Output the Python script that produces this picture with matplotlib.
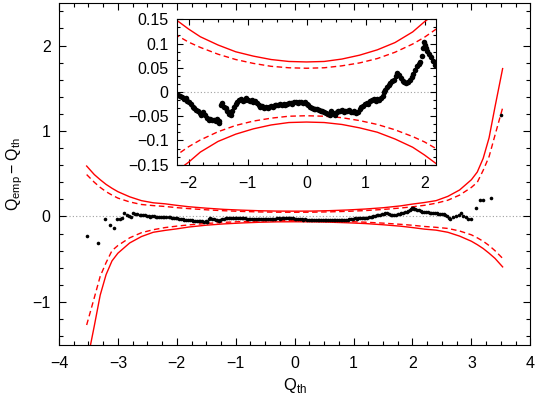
import numpy as np
import matplotlib
matplotlib.use("Agg")
import matplotlib.pyplot as plt
from matplotlib.ticker import MultipleLocator, AutoMinorLocator

plt.rcParams['font.family'] = ['Liberation Sans', 'DejaVu Sans']
plt.rcParams['mathtext.fontset'] = 'custom'
plt.rcParams['mathtext.rm'] = 'Liberation Sans'

# empirical minus theoretical quantiles
q_th = [-3.53, -3.33, -3.22, -3.14, -3.07, -3.02, -2.97, -2.925, -2.89, -2.85,
        -2.81, -2.78, -2.75, -2.71, -2.67, -2.63, -2.60, -2.57, -2.54, -2.51,
        -2.48, -2.45, -2.42, -2.39, -2.36, -2.33, -2.30, -2.27, -2.24, -2.21,
        -2.18, -2.14, -2.11, -2.08, -2.05, -2.02, -1.99, -1.96, -1.93, -1.90,
        -1.87, -1.84, -1.81, -1.78, -1.75, -1.72, -1.69, -1.66, -1.63, -1.60,
        -1.57, -1.54, -1.51, -1.49, -1.48, -1.45, -1.43, -1.40, -1.37, -1.34,
        -1.31, -1.28, -1.26, -1.23, -1.20, -1.17, -1.14, -1.11, -1.08, -1.05,
        -1.02, -0.99, -0.96, -0.93, -0.90, -0.87, -0.84, -0.81, -0.78, -0.75,
        -0.72, -0.69, -0.66, -0.63, -0.60, -0.57, -0.54, -0.51, -0.48, -0.45,
        -0.42, -0.39, -0.36, -0.33, -0.30, -0.27, -0.24, -0.21, -0.18, -0.15,
        -0.12, -0.09, -0.06, -0.03, 0.00, 0.03, 0.06, 0.09, 0.12, 0.15,
        0.18, 0.21, 0.24, 0.27, 0.30, 0.33, 0.36, 0.39, 0.42, 0.45,
        0.48, 0.51, 0.54, 0.57, 0.60, 0.63, 0.66, 0.69, 0.72, 0.75,
        0.78, 0.81, 0.84, 0.87, 0.90, 0.93, 0.96, 0.99, 1.02, 1.05,
        1.08, 1.11, 1.14, 1.17, 1.20, 1.23, 1.26, 1.29, 1.31, 1.33,
        1.36, 1.39, 1.42, 1.45, 1.48, 1.51, 1.54, 1.57, 1.60, 1.63,
        1.66, 1.69, 1.72, 1.75, 1.78, 1.81, 1.84, 1.87, 1.90, 1.93,
        1.95, 1.97, 1.99, 2.01, 2.03, 2.05, 2.08, 2.11, 2.14, 2.17,
        2.20, 2.23, 2.26, 2.29, 2.32, 2.35, 2.38, 2.41, 2.44, 2.47,
        2.50, 2.53, 2.56, 2.59, 2.62, 2.64, 2.69, 2.74, 2.79, 2.83,
        2.86, 2.90, 2.95, 3.00, 3.07, 3.14, 3.20, 3.33, 3.51]
diff = [-0.234, -0.305, -0.032, -0.098, -0.137, -0.035, -0.030, -0.016, 0.043, 0.020,
        0.000, -0.010, 0.035, 0.028, 0.025, 0.020, 0.015, 0.022, 0.012, 0.005,
        0.000, -0.008, 0.008, 0.000, -0.012, -0.005, -0.002, -0.008, -0.004, -0.006,
        -0.006, -0.008, -0.010, -0.014, -0.013, -0.018, -0.021, -0.024, -0.030, -0.033,
        -0.037, -0.040, -0.044, -0.047, -0.042, -0.048, -0.054, -0.057, -0.056, -0.058,
        -0.057, -0.059, -0.056, -0.064, -0.060, -0.027, -0.023, -0.030, -0.034, -0.040,
        -0.045, -0.048, -0.040, -0.030, -0.024, -0.020, -0.017, -0.015, -0.019, -0.016,
        -0.013, -0.016, -0.018, -0.017, -0.020, -0.019, -0.022, -0.027, -0.030, -0.029,
        -0.033, -0.031, -0.032, -0.030, -0.028, -0.030, -0.027, -0.026, -0.027, -0.025,
        -0.026, -0.024, -0.026, -0.025, -0.023, -0.022, -0.024, -0.021, -0.020, -0.022,
        -0.020, -0.021, -0.023, -0.021, -0.024, -0.027, -0.031, -0.033, -0.035, -0.036,
        -0.035, -0.038, -0.039, -0.040, -0.041, -0.043, -0.045, -0.047, -0.040, -0.044,
        -0.047, -0.041, -0.039, -0.040, -0.038, -0.041, -0.039, -0.040, -0.038, -0.041,
        -0.042, -0.040, -0.044, -0.042, -0.036, -0.030, -0.028, -0.025, -0.022, -0.024,
        -0.019, -0.016, -0.014, -0.018, -0.015, -0.017, -0.012, -0.008, -0.001, 0.005,
        0.010, 0.014, 0.018, 0.022, 0.025, 0.033, 0.039, 0.035, 0.028, 0.022,
        0.020, 0.019, 0.021, 0.025, 0.030, 0.038, 0.045, 0.054, 0.057, 0.062,
        0.075, 0.090, 0.103, 0.097, 0.090, 0.085, 0.079, 0.072, 0.064, 0.056,
        0.055, 0.055, 0.050, 0.045, 0.042, 0.038, 0.036, 0.035, 0.032, 0.034,
        0.030, 0.028, 0.020, 0.010, -0.015, -0.024, -0.010, 0.000, 0.020, 0.040,
        0.010, -0.010, -0.024, -0.024, 0.097, 0.190, 0.190, 0.220, 1.190]

# confidence envelopes
band_x = [-3.53, -3.4, -3.3, -3.2, -3.1, -3.0, -2.8, -2.6, -2.4, -2.2, -2.0, -1.8,
          -1.5, -1.2, -0.9, -0.6, -0.3, 0.0, 0.3, 0.6, 0.9, 1.2, 1.5, 1.8,
          2.0, 2.2, 2.4, 2.6, 2.8, 3.0, 3.1, 3.2, 3.3, 3.4, 3.53]
upper_solid = [0.59, 0.49, 0.43, 0.375, 0.33, 0.29, 0.23, 0.185, 0.16, 0.148, 0.130, 0.114,
               0.097, 0.083, 0.074, 0.067, 0.063, 0.062, 0.063, 0.068, 0.076, 0.087, 0.102, 0.124,
               0.145, 0.163, 0.185, 0.235, 0.31, 0.43, 0.52, 0.68, 0.92, 1.28, 1.73]
upper_dash = [0.49, 0.40, 0.34, 0.29, 0.25, 0.215, 0.17, 0.14, 0.127, 0.117, 0.103, 0.092,
              0.078, 0.067, 0.059, 0.053, 0.050, 0.049, 0.050, 0.054, 0.060, 0.069, 0.082, 0.099,
              0.113, 0.130, 0.155, 0.19, 0.25, 0.34, 0.40, 0.54, 0.70, 0.95, 1.27]
lower_solid = [-1.73, -1.28, -0.92, -0.68, -0.52, -0.43, -0.31, -0.235, -0.185, -0.163, -0.145, -0.124,
               -0.102, -0.087, -0.076, -0.068, -0.063, -0.062, -0.063, -0.067, -0.074, -0.083, -0.097, -0.114,
               -0.130, -0.148, -0.16, -0.185, -0.23, -0.29, -0.33, -0.375, -0.43, -0.49, -0.59]
lower_dash = [-1.27, -0.95, -0.70, -0.54, -0.40, -0.34, -0.25, -0.19, -0.155, -0.130, -0.113, -0.099,
              -0.082, -0.069, -0.060, -0.054, -0.050, -0.049, -0.050, -0.053, -0.059, -0.067, -0.078, -0.092,
              -0.103, -0.117, -0.127, -0.14, -0.17, -0.215, -0.25, -0.29, -0.34, -0.40, -0.49]

red = '#ff0000'

def draw(ax, ms):
    ax.axhline(0, color='#a0a0a0', lw=0.8, ls=(0, (1, 2)), zorder=1)
    ax.plot(band_x, upper_solid, color=red, lw=1.0)
    ax.plot(band_x, lower_solid, color=red, lw=1.0)
    ax.plot(band_x, upper_dash, color=red, lw=1.0, dashes=(4, 2.5))
    ax.plot(band_x, lower_dash, color=red, lw=1.0, dashes=(4, 2.5))
    ax.plot(q_th, diff, 'o', color='black', ms=ms, mew=0)
    ax.tick_params(which='both', direction='in', top=True, right=True, labelsize=11.5, width=0.8)
    ax.tick_params(which='major', length=5)
    ax.tick_params(which='minor', length=3)

fig = plt.figure(figsize=(5.36, 3.98), dpi=100)
ax = fig.add_axes([0.110, 0.134, 0.8794, 0.859])
draw(ax, 2.6)
ax.set_xlim(-4, 4)
ax.set_ylim(-1.5, 2.5)
ax.xaxis.set_major_locator(MultipleLocator(1))
ax.xaxis.set_minor_locator(MultipleLocator(0.25))
ax.yaxis.set_major_locator(MultipleLocator(1))
ax.yaxis.set_minor_locator(MultipleLocator(0.2))
ax.tick_params(axis='x', pad=8)
ax.tick_params(axis='y', pad=6)
ax.set_xlabel(r'$\mathrm{Q}_{\mathrm{th}}$', fontsize=12, labelpad=4)
ax.set_ylabel(r'$\mathrm{Q}_{\mathrm{emp}} - \mathrm{Q}_{\mathrm{th}}$', fontsize=11.5, labelpad=5)

ins = fig.add_axes([0.3297, 0.5862, 0.4843, 0.3653])
draw(ins, 4.0)
ins.set_xlim(-2.2, 2.2)
ins.set_ylim(-0.15, 0.15)
ins.xaxis.set_major_locator(MultipleLocator(1))
ins.xaxis.set_minor_locator(MultipleLocator(0.25))
inset_yticks = [-0.15, -0.1, -0.05, 0, 0.05, 0.1, 0.15]
inset_ylabels = ['\u22120.15', '\u22120.1', '\u22120.05', '0', '0.05', '0.1', '0.15']
ins.set_yticks(inset_yticks)
ins.set_yticklabels(inset_ylabels)
ins.yaxis.set_minor_locator(AutoMinorLocator(3))
ins.tick_params(which='major', length=4)
ins.tick_params(which='minor', length=2.5)
ins.tick_params(axis='x', pad=8)
ins.tick_params(axis='y', pad=6)

plt.savefig('out.png', dpi=100)
